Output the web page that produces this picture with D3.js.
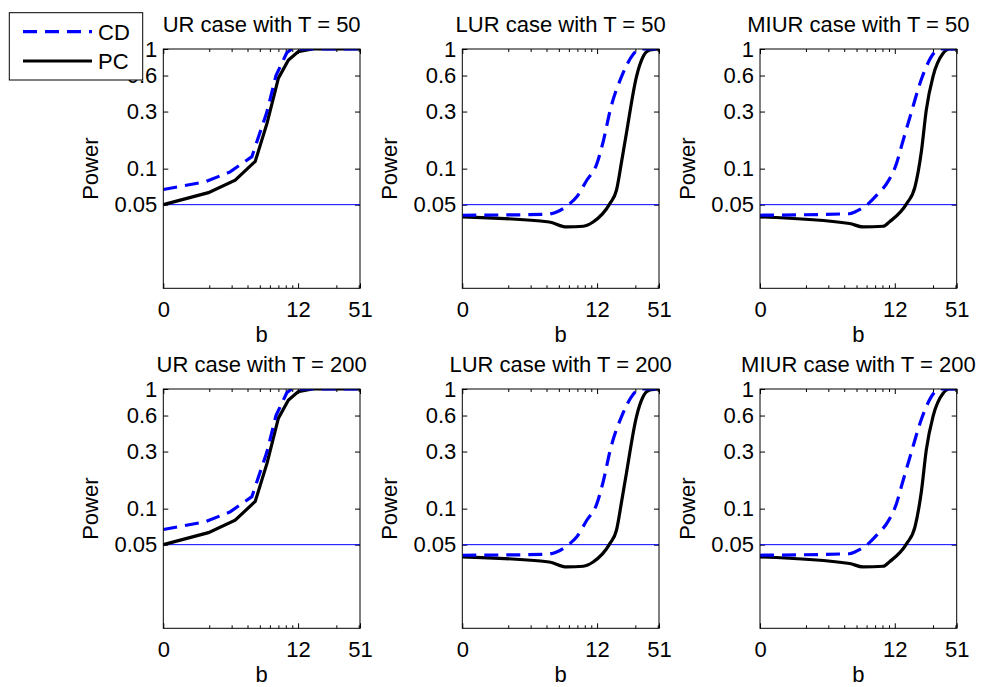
<!DOCTYPE html>
<html>
<head>
<meta charset="utf-8">
<script src="https://cdn.jsdelivr.net/npm/d3@7"></script>
<style>
  body { margin: 0; background: #fff; }
  text { font-family: "Liberation Sans", Arial, sans-serif; }
</style>
</head>
<body>
<script>
const width = 983;
const height = 687;
const panelW = 196.7;
const panelH = 239.3;
const panelLeft = [163.3, 462.3, 760];
const panelTop = [49, 389];
const fontSize = 22;

const caseNames = ["UR", "LUR", "MIUR"];
const sampleSizes = [50, 200];

// log x axis, labelled with b values
const xDomain = [0.87, 30.7];
const xTickVals = [0.87, 10, 30.7];
const xTickLabels = ["0", "12", "51"];
const xMinorTicks = [2, 3, 4, 5, 6, 7, 8, 9, 20, 30];

const yDomain = [0.01, 1];
const yTickVals = [0.05, 0.1, 0.3, 0.6, 1];
const yTickLabels = ["0.05", "0.1", "0.3", "0.6", "1"];
const nominalLevel = 0.05;

// [x, power]
const urCd = [[0.87, 0.067], [1.86, 0.0776], [2.92, 0.094], [4.33, 0.126], [5.7, 0.30], [6.7, 0.60], [8.15, 0.93], [8.9, 1.0], [30.7, 1.0]];
const urPc = [[0.87, 0.050], [1.97, 0.063], [3.2, 0.080], [4.6, 0.115], [5.7, 0.24], [7.0, 0.57], [8.4, 0.81], [10, 0.95], [13, 1.0], [30.7, 1.0]];
const lurCd = [[0.87, 0.0408], [4.0, 0.0415], [4.8, 0.0435], [6.1, 0.051], [6.9, 0.058], [8.3, 0.08], [9.9, 0.108], [11.2, 0.17], [12.7, 0.31], [15.6, 0.59], [19.2, 0.9], [21.6, 1], [30.7, 1]];
const lurPc = [[0.87, 0.0395], [4.2, 0.0358], [5.75, 0.0326], [7.8, 0.033], [9.3, 0.0358], [12.6, 0.051], [14.2, 0.066], [15.6, 0.115], [17.0, 0.197], [20.4, 0.586], [23, 0.86], [26, 0.98], [30.7, 1]];
const miurCd = [[0.87, 0.0408], [4.4, 0.042], [4.85, 0.0435], [6.2, 0.051], [7.2, 0.06], [8.9, 0.079], [10.3, 0.11], [11.4, 0.16], [13.3, 0.28], [16.3, 0.57], [20.8, 0.95], [22.6, 1], [30.7, 1]];
const miurPc = [[0.87, 0.0395], [4.4, 0.0348], [5.6, 0.0326], [8.1, 0.033], [9.1, 0.036], [12.4, 0.051], [14.4, 0.07], [16.2, 0.14], [17.7, 0.31], [20, 0.59], [24, 0.92], [27, 1], [30.7, 1]];

// T = 200 curves look the same as T = 50 in the picture
const cdCurves = [urCd, lurCd, miurCd];
const pcCurves = [urPc, lurPc, miurPc];
// UR is a plain polyline, the other two are drawn smooth
const curveTypes = [d3.curveLinear, d3.curveMonotoneX, d3.curveMonotoneX];

const svg = d3.select("body").append("svg")
  .attr("width", width)
  .attr("height", height);

const x = d3.scaleLog().domain(xDomain).range([0, panelW]);
const y = d3.scaleLog().domain(yDomain).range([panelH, 0]);

function styleAxis(g) {
  g.select(".domain").remove();
  g.selectAll("line").attr("stroke", "#000");
  g.selectAll("text")
    .attr("font-size", fontSize)
    .attr("font-family", "Liberation Sans, Arial, sans-serif")
    .attr("fill", "#000");
}

sampleSizes.forEach((T, r) => {
  caseNames.forEach((name, c) => {
    const id = "clip" + r + c;
    const g = svg.append("g")
      .attr("transform", `translate(${panelLeft[c]},${panelTop[r]})`);

    const line = d3.line()
      .x(d => x(d[0]))
      .y(d => y(d[1]))
      .curve(curveTypes[c]);

    g.append("clipPath").attr("id", id)
      .append("rect").attr("width", panelW).attr("height", panelH);

    // ticks (inward, on all four sides)
    g.append("g").attr("transform", `translate(0,${panelH})`)
      .call(d3.axisBottom(x).tickValues(xTickVals).tickFormat((d, i) => xTickLabels[i]).tickSize(-5).tickPadding(13.5))
      .call(styleAxis);
    g.append("g").attr("transform", `translate(0,${panelH})`)
      .call(d3.axisBottom(x).tickValues(xMinorTicks).tickFormat("").tickSize(-3))
      .call(styleAxis);
    g.append("g")
      .call(d3.axisTop(x).tickValues(xTickVals).tickFormat("").tickSize(-5))
      .call(styleAxis);
    g.append("g")
      .call(d3.axisTop(x).tickValues(xMinorTicks).tickFormat("").tickSize(-3))
      .call(styleAxis);
    g.append("g")
      .call(d3.axisLeft(y).tickValues(yTickVals).tickFormat((d, i) => yTickLabels[i]).tickSize(-5).tickPadding(6))
      .call(styleAxis);
    g.append("g").attr("transform", `translate(${panelW},0)`)
      .call(d3.axisRight(y).tickValues(yTickVals).tickFormat("").tickSize(-5))
      .call(styleAxis);

    const plot = g.append("g").attr("clip-path", `url(#${id})`);

    plot.append("line")
      .attr("x1", 0).attr("x2", panelW)
      .attr("y1", y(nominalLevel)).attr("y2", y(nominalLevel))
      .attr("stroke", "#0000ff")
      .attr("stroke-width", 1);

    plot.append("path")
      .attr("d", line(pcCurves[c]))
      .attr("fill", "none")
      .attr("stroke", "#000")
      .attr("stroke-width", 3.2);

    plot.append("path")
      .attr("d", line(cdCurves[c]))
      .attr("fill", "none")
      .attr("stroke", "#0000ff")
      .attr("stroke-width", 3.2)
      .attr("stroke-dasharray", "14,8");

    g.append("rect")
      .attr("width", panelW).attr("height", panelH)
      .attr("fill", "none")
      .attr("stroke", "#000")
      .attr("stroke-width", 1);

    g.append("text")
      .attr("x", panelW / 2).attr("y", -17.3)
      .attr("text-anchor", "middle")
      .attr("font-size", fontSize)
      .text(`${name} case with T = ${T}`);

    g.append("text")
      .attr("transform", `translate(-65,${panelH / 2}) rotate(-90)`)
      .attr("text-anchor", "middle")
      .attr("font-size", fontSize)
      .text("Power");

    g.append("text")
      .attr("x", panelW / 2).attr("y", panelH + 54)
      .attr("text-anchor", "middle")
      .attr("font-size", fontSize)
      .text("b");
  });
});

// legend
const legend = svg.append("g");
legend.append("rect")
  .attr("x", 9.3).attr("y", 12.7)
  .attr("width", 133.4).attr("height", 67.3)
  .attr("fill", "#fff")
  .attr("stroke", "#000")
  .attr("stroke-width", 1);

const legendItems = [
  { label: "CD", color: "#0000ff", dash: "14,8", y: 31.7 },
  { label: "PC", color: "#000", dash: null, y: 61 }
];
legendItems.forEach(d => {
  legend.append("line")
    .attr("x1", 23).attr("x2", 92)
    .attr("y1", d.y).attr("y2", d.y)
    .attr("stroke", d.color)
    .attr("stroke-width", 3.2)
    .attr("stroke-dasharray", d.dash);
  legend.append("text")
    .attr("x", 98).attr("y", d.y + 8)
    .attr("font-size", fontSize)
    .text(d.label);
});
</script>
</body>
</html>
